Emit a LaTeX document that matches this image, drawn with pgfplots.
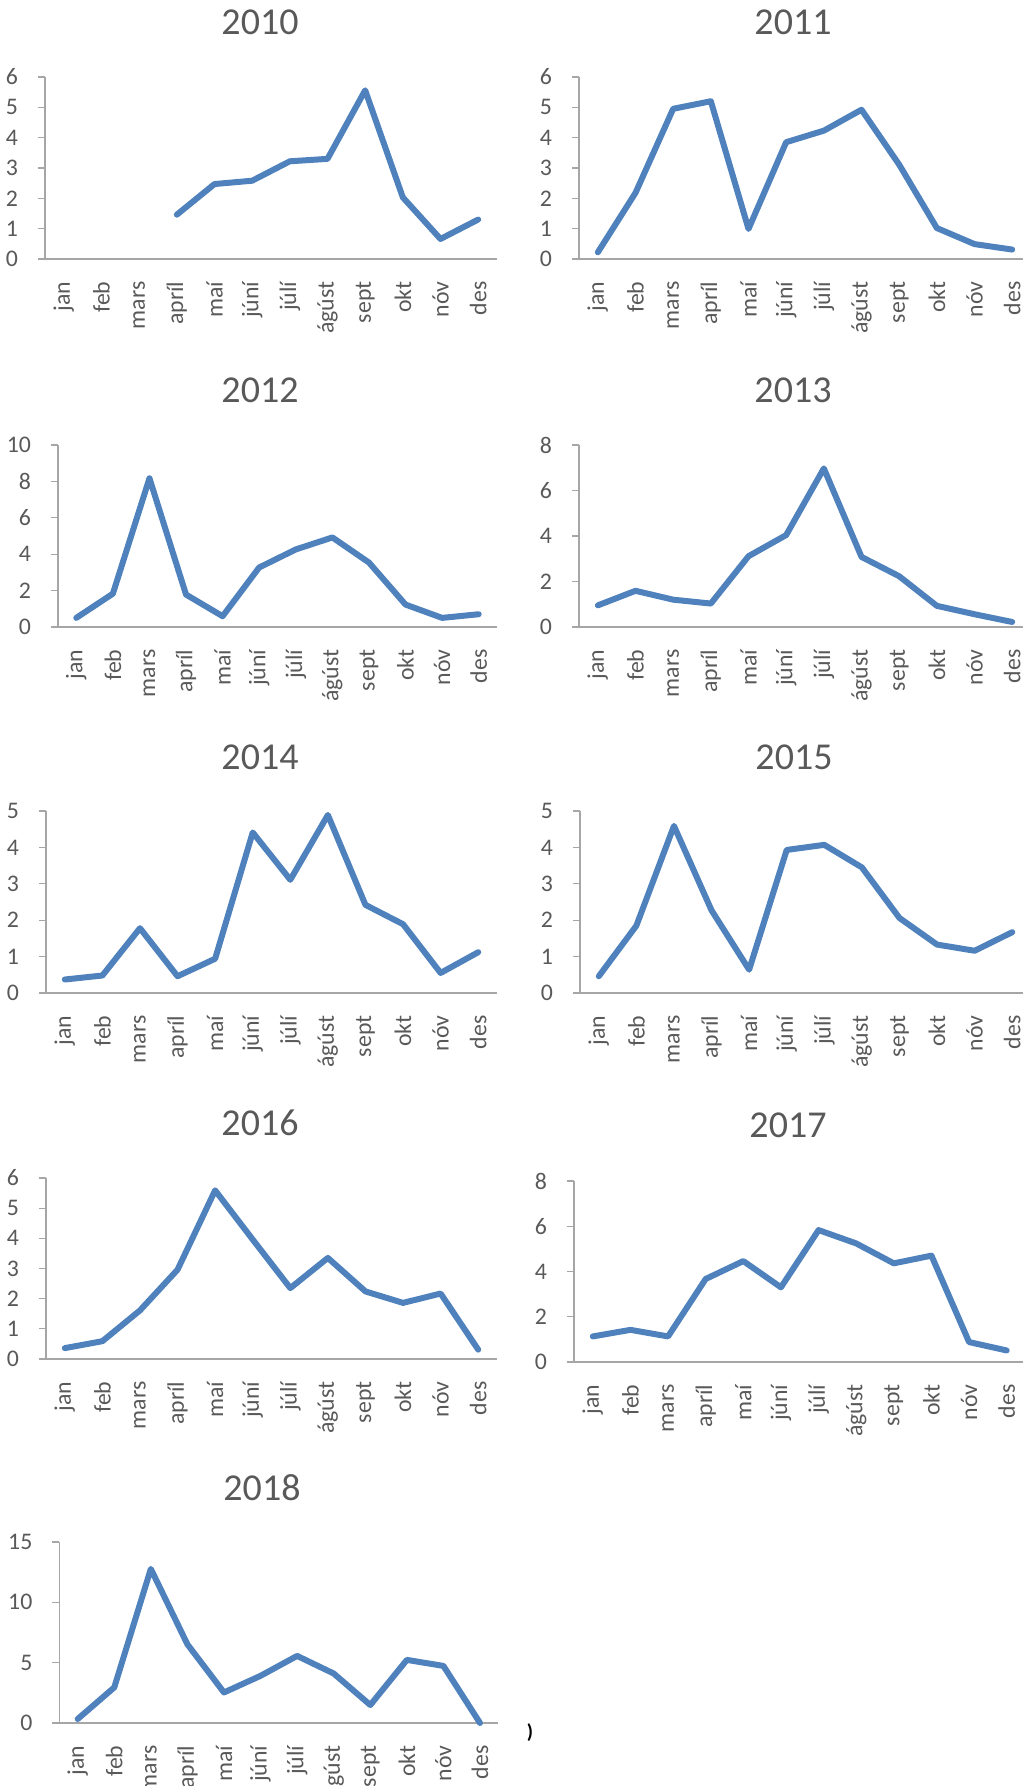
\documentclass[border=0pt]{standalone}
\usepackage{fontspec}
\setmainfont{Carlito}
\usepackage{pgfplots}
\pgfplotsset{compat=1.18}
\definecolor{exblue}{HTML}{4F81BD}
\definecolor{axgray}{HTML}{A6A6A6}
\definecolor{txtgray}{HTML}{595959}
\pgfplotsset{
  mo/.style={
    scale only axis,
    anchor=south west,
    xmin=-0.5, xmax=11.5, ymin=0,
    xtick={0,...,11},
    xticklabels={jan,feb,mars,apríl,maí,júní,júlí,ágúst,sept,okt,nóv,des},
    axis lines=left,
    axis line style={-, draw=axgray, line width=0.6pt},
    xtick style={draw=none},
    ytick style={draw=axgray, line width=0.6pt},
    tick align=outside,
    major tick length=3.5pt,
    minor tick num=0,
    /pgf/number format/assume math mode=true,
    ticklabel style={font=\fontsize{11.9}{14}\selectfont, text=txtgray},
    yticklabel style={anchor=east, xshift=-6.5pt},
    xticklabel style={rotate=90, anchor=east, inner xsep=7.6pt},
    clip=false,
  },
  ln/.style={line width=3pt, color=exblue, no markers, line join=round, line cap=round},
}
\tikzset{ttl/.style={font=\fontsize{19}{22}\selectfont, text=txtgray, anchor=center}}
\begin{document}
\begin{tikzpicture}
\path[use as bounding box] (0pt,0pt) rectangle (511pt,893pt);

% 2010
\begin{axis}[mo, at={(22.5pt,763.5pt)}, width=226pt, height=91pt, ymax=6, ytick={0,1,...,6}]
\addplot[ln] coordinates {(3,1.46) (4,2.47) (5,2.58) (6,3.22) (7,3.30) (8,5.56) (9,2.03) (10,0.66) (11,1.30)};
\end{axis}
\node[ttl] at (130pt,882pt) {2010};

% 2011
\begin{axis}[mo, at={(289.5pt,763.5pt)}, width=226pt, height=91pt, ymax=6, ytick={0,1,...,6}]
\addplot[ln] coordinates {(0,0.22) (1,2.18) (2,4.95) (3,5.20) (4,0.99) (5,3.85) (6,4.23) (7,4.92) (8,3.11) (9,1.02) (10,0.49) (11,0.31)};
\end{axis}
\node[ttl] at (396.5pt,882pt) {2011};

% 2012
\begin{axis}[mo, at={(29pt,579.5pt)}, width=219.5pt, height=91pt, ymax=10, ytick={0,2,...,10}]
\addplot[ln] coordinates {(0,0.50) (1,1.83) (2,8.17) (3,1.78) (4,0.59) (5,3.27) (6,4.26) (7,4.92) (8,3.54) (9,1.23) (10,0.50) (11,0.70)};
\end{axis}
\node[ttl] at (130pt,698pt) {2012};

% 2013
\begin{axis}[mo, at={(289.5pt,579.5pt)}, width=226pt, height=91pt, ymax=8, ytick={0,2,...,8}]
\addplot[ln] coordinates {(0,0.95) (1,1.59) (2,1.20) (3,1.03) (4,3.11) (5,4.04) (6,6.97) (7,3.08) (8,2.23) (9,0.93) (10,0.56) (11,0.22)};
\end{axis}
\node[ttl] at (396.5pt,698pt) {2013};

% 2014
\begin{axis}[mo, at={(23pt,396.5pt)}, width=225.5pt, height=91pt, ymax=5, ytick={0,1,...,5}]
\addplot[ln] coordinates {(0,0.37) (1,0.48) (2,1.78) (3,0.46) (4,0.94) (5,4.41) (6,3.11) (7,4.89) (8,2.42) (9,1.89) (10,0.55) (11,1.12)};
\end{axis}
\node[ttl] at (130pt,514.5pt) {2014};

% 2015
\begin{axis}[mo, at={(290pt,396.5pt)}, width=225.5pt, height=91pt, ymax=5, ytick={0,1,...,5}]
\addplot[ln] coordinates {(0,0.46) (1,1.85) (2,4.59) (3,2.27) (4,0.64) (5,3.93) (6,4.07) (7,3.45) (8,2.06) (9,1.33) (10,1.16) (11,1.67)};
\end{axis}
\node[ttl] at (397pt,514.5pt) {2015};

% 2016
\begin{axis}[mo, at={(23pt,213.5pt)}, width=225.5pt, height=90.5pt, ymax=6, ytick={0,1,...,6}]
\addplot[ln] coordinates {(0,0.36) (1,0.59) (2,1.61) (3,2.96) (4,5.59) (5,3.96) (6,2.35) (7,3.35) (8,2.24) (9,1.86) (10,2.17) (11,0.31)};
\end{axis}
\node[ttl] at (130pt,331.5pt) {2016};

% 2017
\begin{axis}[mo, at={(287pt,212pt)}, width=225.75pt, height=90.5pt, ymax=8, ytick={0,2,...,8}]
\addplot[ln] coordinates {(0,1.13) (1,1.42) (2,1.13) (3,3.67) (4,4.46) (5,3.30) (6,5.83) (7,5.24) (8,4.36) (9,4.70) (10,0.88) (11,0.51)};
\end{axis}
\node[ttl] at (394pt,330.5pt) {2017};

% 2018
\begin{axis}[mo, at={(29.7pt,31.5pt)}, width=219.45pt, height=90.5pt, ymax=15, ytick={0,5,10,15}]
\addplot[ln] coordinates {(0,0.33) (1,2.95) (2,12.77) (3,6.52) (4,2.53) (5,3.91) (6,5.56) (7,4.10) (8,1.49) (9,5.23) (10,4.73) (11,0.0)};
\end{axis}
\node[ttl] at (131pt,149pt) {2018};
\node[font=\fontsize{10}{12}\selectfont\bfseries, text=black, inner sep=0pt] at (265pt,26.5pt) {)};
\end{tikzpicture}
\end{document}
